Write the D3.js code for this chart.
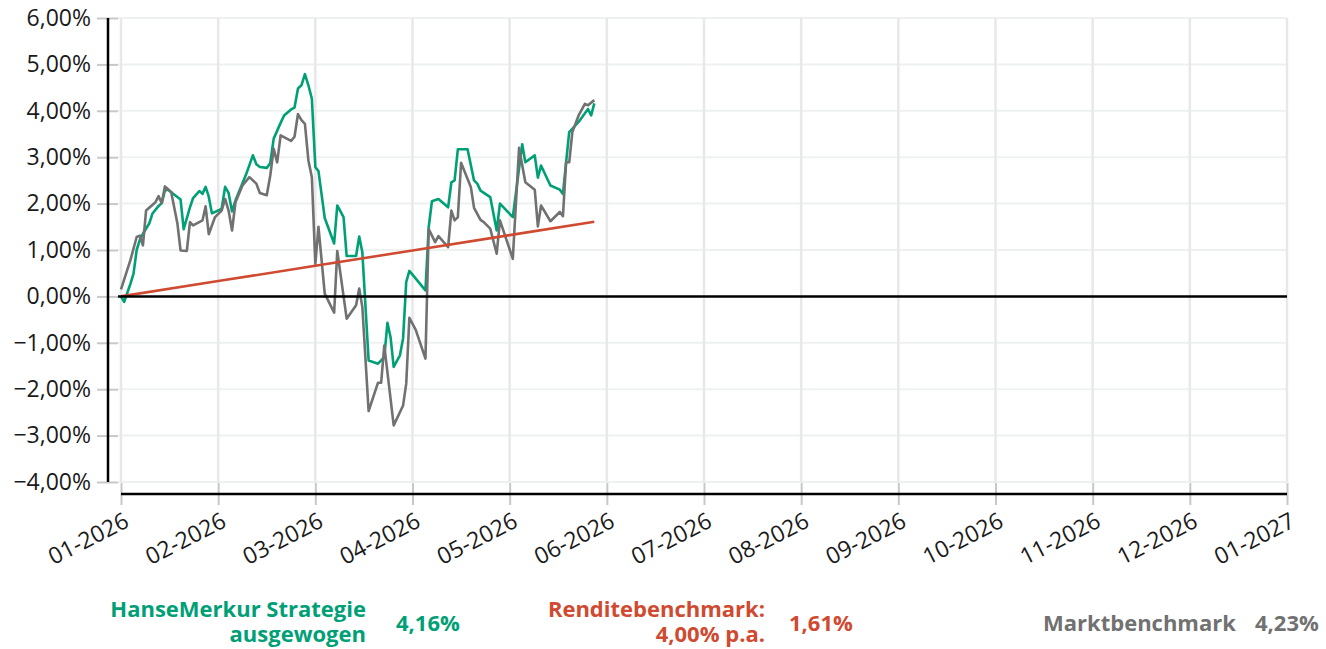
<!DOCTYPE html>
<meta charset="utf-8">

<script src="https://d3js.org/d3.v7.min.js"></script>

<svg></svg>

<style>

body {
  margin: 0;
  background: #fff;
  font-family: 'Open Sans', sans-serif;
}

svg {
  display: block;
}

line.hgrid {
  stroke: #edf2ef;
  stroke-width: 2;
}

line.vgrid {
  stroke: #e8e8e8;
  stroke-width: 2.5;
}

.axis .tick line {
  stroke: #c8c8c8;
  stroke-width: 2;
}

.axis text {
  font-family: 'Open Sans', sans-serif;
  font-size: 23px;
  fill: #1a1a1a;
}

line.black {
  stroke: #000;
  stroke-width: 2.5;
}

path.series {
  fill: none;
  stroke-width: 2.6;
  stroke-linejoin: round;
}

text.legend {
  font-size: 22px;
  font-weight: 700;
}

</style>

<script>
  const monthTicks = ['2026-01-01', '2026-02-01', '2026-03-01', '2026-04-01', '2026-05-01', '2026-06-01',
    '2026-07-01', '2026-08-01', '2026-09-01', '2026-10-01', '2026-11-01', '2026-12-01', '2027-01-01'];
  const yTicks = [-4, -3, -2, -1, 0, 1, 2, 3, 4, 5, 6];

  // HanseMerkur Strategie ausgewogen
  const fundDates = ['2026-01-01', '2026-01-02', '2026-01-04', '2026-01-05', '2026-01-06', '2026-01-07', '2026-01-08',
    '2026-01-10', '2026-01-11', '2026-01-13', '2026-01-14', '2026-01-15', '2026-01-16', '2026-01-20', '2026-01-21',
    '2026-01-23', '2026-01-24', '2026-01-26', '2026-01-27', '2026-01-28', '2026-01-29', '2026-01-30', '2026-02-01',
    '2026-02-02', '2026-02-03', '2026-02-04', '2026-02-05', '2026-02-06', '2026-02-09', '2026-02-11', '2026-02-12',
    '2026-02-13', '2026-02-15', '2026-02-16', '2026-02-17', '2026-02-19', '2026-02-20', '2026-02-22', '2026-02-23',
    '2026-02-24', '2026-02-25', '2026-02-26', '2026-02-27', '2026-02-28', '2026-03-01', '2026-03-02', '2026-03-04',
    '2026-03-07', '2026-03-08', '2026-03-10', '2026-03-11', '2026-03-14', '2026-03-15', '2026-03-16', '2026-03-18',
    '2026-03-21', '2026-03-23', '2026-03-24', '2026-03-25', '2026-03-26', '2026-03-28', '2026-03-29', '2026-03-30',
    '2026-03-31', '2026-04-05', '2026-04-06', '2026-04-07', '2026-04-09', '2026-04-12', '2026-04-13', '2026-04-14',
    '2026-04-15', '2026-04-18', '2026-04-20', '2026-04-21', '2026-04-22', '2026-04-25', '2026-04-27', '2026-04-28',
    '2026-05-02', '2026-05-05', '2026-05-06', '2026-05-09', '2026-05-10', '2026-05-11', '2026-05-14', '2026-05-17',
    '2026-05-18', '2026-05-19', '2026-05-20', '2026-05-23', '2026-05-26', '2026-05-27', '2026-05-28'];
  const fundValues = [0.00, -0.12, 0.27, 0.49, 1.00, 1.22, 1.35,
    1.57, 1.78, 1.95, 2.01, 2.28, 2.30, 2.09, 1.45,
    1.92, 2.12, 2.27, 2.21, 2.36, 2.15, 1.79, 1.85,
    1.89, 2.36, 2.23, 1.83, 2.07, 2.62, 3.04, 2.85,
    2.79, 2.77, 2.87, 3.40, 3.74, 3.90, 4.03, 4.07,
    4.48, 4.55, 4.79, 4.55, 4.26, 2.79, 2.70, 1.69,
    1.14, 1.96, 1.71, 0.87, 0.87, 1.29, 0.95, -1.38,
    -1.45, -1.31, -0.57, -0.88, -1.52, -1.27, -0.90, 0.31,
    0.55, 0.13, 1.49, 2.05, 2.10, 1.92, 2.46, 2.50,
    3.17, 3.17, 2.50, 2.43, 2.28, 2.14, 1.42, 2.00,
    1.71, 3.28, 2.89, 3.04, 2.56, 2.82, 2.39, 2.30,
    2.21, 2.89, 3.54, 3.76, 4.04, 3.90, 4.16];

  // Marktbenchmark
  const marketDates = ['2026-01-01', '2026-01-02', '2026-01-04', '2026-01-06', '2026-01-07', '2026-01-08', '2026-01-09',
    '2026-01-12', '2026-01-13', '2026-01-14', '2026-01-15', '2026-01-17', '2026-01-19', '2026-01-20', '2026-01-22',
    '2026-01-23', '2026-01-24', '2026-01-27', '2026-01-28', '2026-01-29', '2026-01-31', '2026-02-02', '2026-02-03',
    '2026-02-04', '2026-02-05', '2026-02-06', '2026-02-08', '2026-02-10', '2026-02-12', '2026-02-13', '2026-02-15',
    '2026-02-16', '2026-02-17', '2026-02-18', '2026-02-19', '2026-02-22', '2026-02-23', '2026-02-24', '2026-02-25',
    '2026-02-26', '2026-02-27', '2026-02-28', '2026-03-01', '2026-03-02', '2026-03-04', '2026-03-07', '2026-03-08',
    '2026-03-11', '2026-03-14', '2026-03-15', '2026-03-16', '2026-03-18', '2026-03-21', '2026-03-22', '2026-03-23',
    '2026-03-26', '2026-03-29', '2026-03-30', '2026-03-31', '2026-04-02', '2026-04-05', '2026-04-06', '2026-04-08',
    '2026-04-09', '2026-04-12', '2026-04-13', '2026-04-14', '2026-04-15', '2026-04-16', '2026-04-19', '2026-04-20',
    '2026-04-22', '2026-04-23', '2026-04-25', '2026-04-27', '2026-04-28', '2026-05-02', '2026-05-04', '2026-05-06',
    '2026-05-09', '2026-05-10', '2026-05-11', '2026-05-14', '2026-05-17', '2026-05-18', '2026-05-19', '2026-05-20',
    '2026-05-21', '2026-05-23', '2026-05-25', '2026-05-26', '2026-05-28'];
  const marketValues = [0.15, 0.36, 0.78, 1.28, 1.31, 1.10, 1.85,
    2.03, 2.16, 2.01, 2.37, 2.25, 1.57, 0.99, 0.98,
    1.60, 1.53, 1.64, 1.94, 1.34, 1.71, 1.85, 2.10,
    1.85, 1.42, 2.03, 2.39, 2.57, 2.43, 2.23, 2.18,
    2.60, 3.18, 2.89, 3.47, 3.35, 3.44, 3.93, 3.80,
    3.72, 2.93, 2.57, 0.70, 1.50, 0.06, -0.35, 0.98,
    -0.48, -0.19, 0.17, -0.23, -2.47, -1.86, -1.86, -1.06,
    -2.78, -2.35, -1.88, -0.46, -0.72, -1.34, 1.45, 1.17,
    1.30, 1.06, 1.85, 1.64, 1.71, 2.88, 2.36, 1.91,
    1.65, 1.60, 1.46, 0.92, 1.64, 0.81, 3.20, 2.46,
    2.30, 1.51, 1.96, 1.62, 1.82, 1.73, 2.89, 2.89,
    3.54, 3.90, 4.15, 4.12, 4.23];

  // Renditebenchmark 4,00% p.a.
  const targetDates = ['2026-01-01', '2026-02-01', '2026-03-01', '2026-04-01', '2026-05-01', '2026-05-28'];
  const targetValues = [0, 0.33, 0.66, 0.99, 1.32, 1.61];

  const legendNames = [['HanseMerkur Strategie', 'ausgewogen'], ['Renditebenchmark:', '4,00% p.a.'], ['Marktbenchmark']];

  const colors = { fund: '#00a077', target: '#cf4a30', market: '#717171' };

  const parse = d3.timeParse('%Y-%m-%d');
  const de = d3.formatLocale({ decimal: ',', thousands: '.', grouping: [3], currency: ['', ' €'] });
  const pct = (v) => de.format('.2f')(v) + '%';

  const svg = d3.select('svg').attr('width', 1326).attr('height', 649);

  const plotLeft = 121, plotRight = 1287, plotTop = 18, plotBottom = 482;

  const months = monthTicks.map(parse);
  const step = (plotRight - plotLeft) / (months.length - 1);
  // every month gets the same width on the axis
  const x = d3.scaleTime()
    .domain(months)
    .range(months.map((d, i) => plotLeft + i * step));

  const y = d3.scaleLinear()
    .domain([d3.min(yTicks), d3.max(yTicks)])
    .range([plotBottom, plotTop]);

  // grid
  svg.append('g').selectAll('line')
    .data(yTicks)
    .join('line')
    .attr('class', 'hgrid')
    .attr('x1', plotLeft - 3)
    .attr('x2', plotRight)
    .attr('y1', (d) => y(d))
    .attr('y2', (d) => y(d));

  svg.append('g').selectAll('line')
    .data(months)
    .join('line')
    .attr('class', 'vgrid')
    .attr('x1', (d) => x(d))
    .attr('x2', (d) => x(d))
    .attr('y1', plotTop)
    .attr('y2', plotBottom);

  // y axis
  const yAxis = svg.append('g')
    .attr('class', 'axis')
    .attr('transform', `translate(${plotLeft - 3}, 0)`)
    .call(d3.axisLeft(y).tickValues(yTicks).tickFormat(pct).tickSizeInner(21).tickSizeOuter(0).tickPadding(6));
  yAxis.select('.domain').remove();

  svg.append('line')
    .attr('class', 'black')
    .attr('x1', 108).attr('x2', 108)
    .attr('y1', plotTop).attr('y2', plotBottom);

  // x axis
  const xAxis = svg.append('g')
    .attr('class', 'axis')
    .attr('transform', `translate(0, ${plotBottom + 1})`)
    .call(d3.axisBottom(x).tickValues(months).tickFormat(d3.timeFormat('%m-%Y')).tickSizeInner(22).tickSizeOuter(0));
  xAxis.select('.domain').remove();
  xAxis.selectAll('text')
    .attr('x', 0)
    .attr('y', 0)
    .attr('dy', 0)
    .attr('text-anchor', 'end')
    .attr('transform', 'translate(9, 43) rotate(-27)');

  svg.append('line')
    .attr('class', 'black')
    .attr('x1', plotLeft).attr('x2', plotRight)
    .attr('y1', plotBottom + 12).attr('y2', plotBottom + 12);

  // series
  const line = d3.line()
    .x((d) => x(d.date))
    .y((d) => y(d.value));

  const toPoints = (dates, values) => dates.map((d, i) => ({ date: parse(d), value: values[i] }));

  const fund = toPoints(fundDates, fundValues);
  const market = toPoints(marketDates, marketValues);
  const target = toPoints(targetDates, targetValues);

  svg.append('path').datum(fund).attr('class', 'series').attr('stroke', colors.fund).attr('d', line);
  svg.append('path').datum(market).attr('class', 'series').attr('stroke', colors.market).attr('d', line);
  svg.append('path').datum(target).attr('class', 'series').attr('stroke', colors.target).attr('d', line);

  svg.append('line')
    .attr('class', 'black')
    .attr('x1', plotLeft - 3).attr('x2', plotRight)
    .attr('y1', y(0)).attr('y2', y(0));

  // legend
  const lastValue = (s) => s[s.length - 1].value;

  const legend = svg.append('g');

  const nameBlock = (lines, xPos, color, anchor) => {
    const label = legend.append('text')
      .attr('class', 'legend')
      .attr('y', lines.length > 1 ? 617 : 631)
      .attr('text-anchor', anchor)
      .attr('fill', color);
    lines.forEach((t, i) => {
      label.append('tspan')
        .attr('x', xPos)
        .attr('dy', i === 0 ? 0 : 25)
        .text(t);
    });
  };

  const valueText = (v, xPos, color) => {
    legend.append('text')
      .attr('class', 'legend')
      .attr('x', xPos)
      .attr('y', 631)
      .attr('fill', color)
      .text(pct(v));
  };

  nameBlock(legendNames[0], 366, colors.fund, 'end');
  valueText(lastValue(fund), 396, colors.fund);

  nameBlock(legendNames[1], 765, colors.target, 'end');
  valueText(lastValue(target), 789, colors.target);

  nameBlock(legendNames[2], 1043, colors.market, 'start');
  valueText(lastValue(market), 1255, colors.market);

</script>
